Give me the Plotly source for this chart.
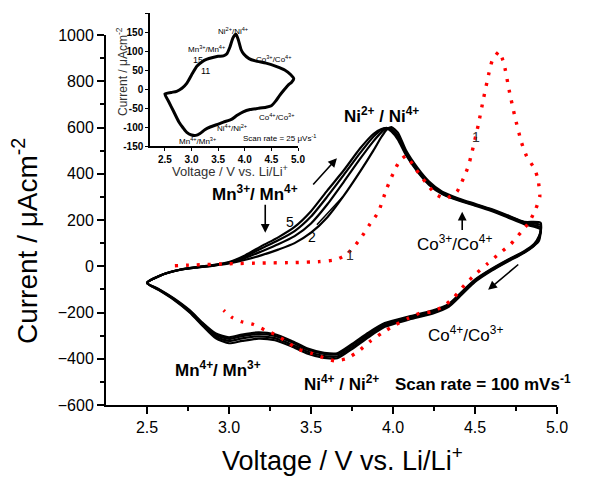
import plotly.graph_objects as go

# ---------------- data ----------------
# anodic (forward) scan, cycles 2-5
anodic_v = [2.50, 2.60, 2.70, 2.80, 2.90, 3.00, 3.10, 3.20, 3.30, 3.40, 3.50, 3.60, 3.70, 3.80,
            3.88, 3.93, 3.96, 3.99, 4.03, 4.08, 4.15, 4.22, 4.30, 4.40, 4.50, 4.60, 4.70, 4.80, 4.90]
anodic_c2 = [-72, -35, -16, -6, 2, 12, 28, 48, 72, 100, 145, 212, 305, 410,
             500, 560, 590, 602, 578, 500, 425, 366, 322, 293, 270, 247, 220, 192, 188]
anodic_c3 = [-72, -35, -15, -5, 3, 14, 36, 65, 95, 130, 185, 268, 365, 465,
             540, 580, 596, 594, 565, 492, 418, 360, 318, 290, 267, 244, 217, 190, 178]
anodic_c4 = [-72, -35, -15, -4, 4, 16, 42, 78, 112, 152, 215, 302, 395, 490,
             560, 590, 598, 588, 555, 485, 412, 356, 315, 287, 265, 242, 214, 186, 168]
anodic_c5 = [-72, -35, -15, -4, 5, 18, 48, 88, 125, 170, 238, 328, 415, 510,
             572, 593, 597, 583, 548, 480, 408, 352, 312, 284, 262, 239, 211, 182, 160]

# cathodic (reverse) scan, cycles 2-5
cathodic_v = [4.89, 4.86, 4.80, 4.70, 4.60, 4.50, 4.42, 4.34, 4.24, 4.10, 3.95, 3.85, 3.75, 3.66,
              3.58, 3.48, 3.38, 3.28, 3.18, 3.08, 3.00, 2.92, 2.84, 2.76, 2.66, 2.57, 2.50]
cathodic_c2 = [110, 88, 58, 20, -20, -68, -122, -175, -205, -230, -262, -307, -358, -398,
               -396, -378, -346, -320, -313, -323, -333, -312, -258, -200, -143, -102, -72]
cathodic_c3 = [118, 90, 60, 23, -17, -64, -118, -171, -200, -226, -256, -300, -350, -390,
               -388, -370, -338, -311, -303, -312, -323, -305, -253, -197, -141, -101, -72]
cathodic_c4 = [124, 93, 63, 26, -14, -60, -113, -166, -195, -220, -250, -292, -341, -381,
               -379, -361, -328, -301, -293, -302, -314, -297, -248, -193, -139, -99, -72]
cathodic_c5 = [130, 96, 65, 28, -12, -58, -110, -163, -192, -217, -246, -287, -336, -376,
               -374, -356, -322, -294, -286, -295, -307, -291, -245, -190, -137, -98, -72]

# first cycle (red dotted)
cycle1_v = [2.67, 2.80, 3.00, 3.20, 3.40, 3.55, 3.65, 3.72, 3.80, 3.86, 3.91, 3.96, 4.00, 4.04,
            4.08, 4.14, 4.20, 4.26, 4.32, 4.39, 4.43, 4.46, 4.48, 4.52, 4.55, 4.585, 4.605, 4.647,
            4.676, 4.708, 4.743, 4.784, 4.814, 4.865, 4.885, 4.895, 4.87, 4.83, 4.78, 4.72, 4.647,
            4.576, 4.506, 4.435, 4.374, 4.303, 4.233, 4.16, 4.09, 4.01, 3.93, 3.858, 3.787, 3.716,
            3.645, 3.574, 3.50, 3.42, 3.35, 3.29, 3.22, 3.149, 3.078, 3.018, 2.967]
cycle1_i = [2, 6, 11, 14, 16, 20, 28, 52, 118, 183, 233, 333, 400, 455,
            477, 419, 362, 312, 292, 323, 381, 434, 489, 611, 719, 835, 889, 928,
            878, 762, 647, 534, 477, 419, 373, 301, 247, 190, 147, 97, 54,
            11, -32, -82, -133, -176, -197, -204, -226, -255, -290, -326, -369, -400,
            -409, -395, -376, -358, -326, -298, -276, -252, -240, -221, -190]

# inset: 25 uV/s scan
inset_v = [2.50, 2.62, 2.72, 2.82, 2.91, 3.00, 3.10, 3.20, 3.28, 3.40, 3.50, 3.60, 3.66, 3.72,
           3.78, 3.835, 3.88, 3.93, 3.98, 4.08, 4.20, 4.40, 4.60, 4.75, 4.86, 4.92, 4.88, 4.82,
           4.74, 4.66, 4.58, 4.50, 4.40, 4.25, 4.10, 3.97, 3.85, 3.75, 3.60, 3.47, 3.35, 3.25,
           3.16, 3.08, 3.00, 2.91, 2.84, 2.76, 2.66, 2.57, 2.50]
inset_i = [-13, -9, -6, 2, 15, 37, 60, 72, 78, 83, 86, 87, 92, 110,
           135, 144, 129, 104, 92, 80, 74, 68, 59, 50, 38, 27, 18, 11,
           -2, -16, -32, -44, -48, -51, -54, -60, -70, -80, -87, -94, -100, -107,
           -117, -122, -121, -114, -102, -86, -58, -33, -13]

x_ticks = [2.5, 3.0, 3.5, 4.0, 4.5, 5.0]
y_ticks = [-600, -400, -200, 0, 200, 400, 600, 800, 1000]
inset_x_ticks = [2.5, 3.0, 3.5, 4.0, 4.5, 5.0]
inset_y_ticks = [-150, -100, -50, 0, 50, 100, 150, 200]

assert len(cycle1_v) == len(cycle1_i)
assert len(inset_v) == len(inset_i)

FONT = "Arial, Liberation Sans, sans-serif"

fig = go.Figure()

# black cycles 2-5
for an, ca in [(anodic_c2, cathodic_c2), (anodic_c3, cathodic_c3),
               (anodic_c4, cathodic_c4), (anodic_c5, cathodic_c5)]:
    fig.add_trace(go.Scatter(x=anodic_v + cathodic_v, y=an + ca, mode="lines",
                             line=dict(color="black", width=2.2, shape="spline", smoothing=0.6),
                             showlegend=False, hoverinfo="skip"))

# red dotted first cycle
fig.add_trace(go.Scatter(x=cycle1_v, y=cycle1_i, mode="lines",
                         line=dict(color="#ff0000", width=3.4, dash="3px,8px",
                                   shape="spline", smoothing=0.5),
                         showlegend=False, hoverinfo="skip"))

# inset curve
fig.add_trace(go.Scatter(x=inset_v, y=inset_i, mode="lines", xaxis="x2", yaxis="y2",
                         line=dict(color="black", width=3, shape="spline", smoothing=0.6),
                         showlegend=False, hoverinfo="skip"))

# ---------------- layout ----------------
OFF = 8  # page offset of the figure inside the browser window
W, H = 590, 477
L = 106 - OFF
R = W - (557 - OFF)
T = 12 - OFF
B = H - (405 - OFF)
ph = H - T - B
pw = W - L - R


def py(pix):  # screen pixel row -> paper y
    return (H - B - (pix - OFF)) / ph


def px(pix):  # screen pixel column -> paper x
    return (pix - OFF - L) / pw


fig.update_layout(
    template="none",
    width=W, height=H, margin=dict(l=L, r=R, t=T, b=B, autoexpand=False),
    paper_bgcolor="white", plot_bgcolor="white",
    font=dict(family=FONT, color="black"),
    xaxis=dict(range=[2.25, 5.0], domain=[0, 1], tickvals=x_ticks, ticktext=[f"{v:.1f}" for v in x_ticks],
               showline=True, linecolor="black", linewidth=2, ticks="outside", ticklen=7, tickwidth=2,
               tickcolor="black", showgrid=False, zeroline=False, tickfont=dict(size=16), automargin=False,
               minor=dict(tickvals=[2.75, 3.25, 3.75, 4.25, 4.75], ticks="outside", ticklen=4,
                          tickwidth=1.5, tickcolor="black", showgrid=False)),
    yaxis=dict(range=[-600, 1000], domain=[0, py(35)], tickvals=y_ticks,
               showline=True, linecolor="black", linewidth=2, ticks="outside", ticklen=7, tickwidth=2,
               tickcolor="black", showgrid=False, zeroline=False, tickfont=dict(size=16), automargin=False,
               minor=dict(dtick=100, ticks="outside", ticklen=4, tickwidth=1.5, tickcolor="black",
                          showgrid=False)),
    xaxis2=dict(range=[2.22, 5.0], domain=[px(150), px(298)], anchor="y2", tickvals=inset_x_ticks,
                ticktext=[f"<b>{v:.1f}</b>" for v in inset_x_ticks], automargin=False,
                showline=True, linecolor="black", linewidth=1.5, ticks="outside", ticklen=3,
                tickcolor="black", showgrid=False, zeroline=False, tickfont=dict(size=10)),
    yaxis2=dict(range=[-150, 200], domain=[py(146), py(13)], anchor="x2", tickvals=inset_y_ticks,
                ticktext=[f"<b>{v}</b>" for v in inset_y_ticks], automargin=False,
                showline=True, linecolor="black", linewidth=1.5, ticks="outside", ticklen=3,
                tickcolor="black", showgrid=False, zeroline=False, tickfont=dict(size=10)),
)

ann = []
# axis titles
ann.append(dict(text="Current / \u03bcAcm<sup>-2</sup>", xref="paper", yref="paper",
                x=px(25), y=py(241), textangle=-90, showarrow=False, font=dict(size=28),
                xanchor="center", yanchor="middle"))
ann.append(dict(text="Voltage / V vs. Li/Li<sup>+</sup>", xref="paper", yref="paper",
                x=px(342), y=py(459), showarrow=False, font=dict(size=27),
                xanchor="center", yanchor="middle"))
# inset titles
ann.append(dict(text="Voltage / V vs. Li/Li<sup>+</sup>", xref="paper", yref="paper",
                x=px(230), y=py(171), showarrow=False, font=dict(size=13, color="#333"),
                xanchor="center", yanchor="middle"))
ann.append(dict(text="Current / \u03bcAcm<sup>-2</sup>", xref="paper", yref="paper",
                x=px(122), y=py(72), textangle=-90, showarrow=False, font=dict(size=12, color="#333"),
                xanchor="center", yanchor="middle"))


def label(text, x, y, size=17, bold=True, xanchor="center", ref=("x", "y"), color="black"):
    t = f"<b>{text}</b>" if bold else text
    ann.append(dict(text=t, x=x, y=y, xref=ref[0], yref=ref[1], showarrow=False,
                    font=dict(size=size, color=color), xanchor=xanchor, yanchor="middle"))


label("Ni<sup>2+</sup> / Ni<sup>4+</sup>", 3.932, 654)
label("Mn<sup>3+</sup>/ Mn<sup>4+</sup>", 3.16, 316)
label("Co<sup>3+</sup>/Co<sup>4+</sup>", 4.378, 99, bold=False)
label("Co<sup>4+</sup>/Co<sup>3+</sup>", 4.439, -293, bold=False)
label("Mn<sup>4+</sup>/ Mn<sup>3+</sup>", 2.931, -445)
label("Ni<sup>4+</sup> / Ni<sup>2+</sup>", 3.684, -506)
label("Scan rate = 100 mVs<sup>-1</sup>", 4.0, -505, xanchor="left")
label("5", 3.369, 193, size=14, bold=False)
label("2", 3.505, 125, size=14, bold=False)
label("1", 4.504, 560, size=14, bold=False, color="#333")
label("1", 3.739, 49, size=14, bold=False, color="#333")

# inset labels
ins = ("x2", "y2")
label("Ni<sup>2+</sup>/Ni<sup>4+</sup>", 3.77, 153, size=8, bold=False, ref=ins)
label("Mn<sup>3+</sup>/Mn<sup>4+</sup>", 3.284, 105, size=8, bold=False, ref=ins)
label("15", 3.126, 76, size=9, bold=False, ref=ins)
label("11", 3.265, 48, size=9, bold=False, ref=ins)
label("Co<sup>3+</sup>/Co<sup>4+</sup>", 4.549, 79, size=8, bold=False, ref=ins)
label("Co<sup>4+</sup>/Co<sup>3+</sup>", 4.596, -73, size=8, bold=False, ref=ins)
label("Ni<sup>4+</sup>/Ni<sup>2+</sup>", 3.763, -103, size=8, bold=False, ref=ins)
label("Mn<sup>4+</sup>/Mn<sup>3+</sup>", 3.111, -137, size=8, bold=False, ref=ins)
label("Scan rate = 25 \u03bcVs<sup>-1</sup>", 4.66, -128, size=8, bold=False, ref=ins)

# arrows (head x,y ; tail ax,ay)
arrows = [((3.658, 467), (3.505, 347)),
          ((3.221, 145), (3.221, 272)),
          ((4.422, 236), (4.422, 150)),
          ((4.580, -102), (4.773, 13))]
for (hx, hy), (tx, ty) in arrows:
    ann.append(dict(text="", x=hx, y=hy, ax=tx, ay=ty, xref="x", yref="y", axref="x", ayref="y",
                    showarrow=True, arrowhead=2, arrowsize=1.1, arrowwidth=1.6, arrowcolor="black",
                    standoff=0, startstandoff=0))

fig.update_layout(annotations=ann)

# leader line next to "2"
fig.add_shape(type="line", x0=3.536, y0=179, x1=3.694, y1=301, xref="x", yref="y",
              line=dict(color="black", width=1.5))

fig.write_html("out.html")
